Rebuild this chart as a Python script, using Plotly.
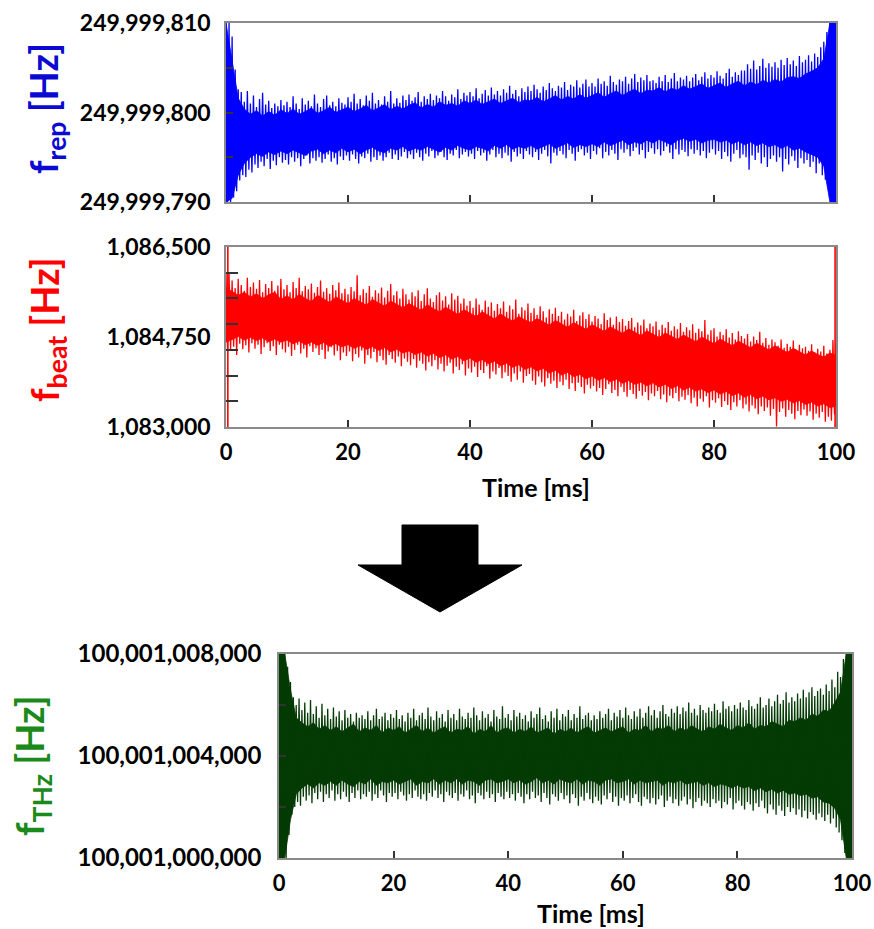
import plotly.graph_objects as go

W, H = 874, 929

# ---------------- data ----------------
# time grid of the inner (dense) band, 1 ms steps
T_IN = list(range(101))
# time grid of the excursion samples, 0.5 ms steps
T_SPK = [i * 0.5 for i in range(201)]

# f_rep : values are offsets from 249,999,000 Hz
FREP_BASE = 249_999_000
FREP_IN_UP = [
    810, 806.0, 801.6, 800.4, 799.8, 800.2, 799.6, 800.1, 799.7, 800.3,
    799.9, 800.4, 799.8, 800.1, 800.5, 799.9, 800.2, 800.6, 800.0, 800.3,
    800.6, 800.1, 800.4, 800.8, 800.2, 800.5, 800.9, 800.3, 800.7, 800.4,
    800.8, 801.1, 800.5, 800.9, 800.6, 801.2, 800.8, 801.0, 800.7, 801.3,
    801.0, 801.4, 800.9, 801.2, 801.5, 801.0, 801.3, 801.6, 801.1, 801.4,
    801.3, 801.7, 801.2, 801.5, 801.9, 801.4, 801.8, 801.5, 802.0, 801.6,
    801.9, 802.2, 801.7, 802.1, 802.4, 801.9, 802.3, 802.6, 802.1, 802.5,
    802.4, 802.8, 802.3, 802.7, 802.5, 803.0, 802.6, 802.9, 803.2, 802.7,
    803.0, 803.3, 802.8, 803.2, 803.5, 803.0, 803.4, 803.1, 803.6, 803.3,
    803.7, 803.4, 803.9, 804.0, 803.8, 804.3, 804.6, 805.0, 806.0, 810,
    810,
]
FREP_IN_DN = [
    790, 790.4, 793.0, 794.3, 795.0, 795.4, 795.1, 795.6, 795.3, 795.7,
    795.4, 795.8, 795.5, 795.2, 795.7, 795.9, 795.4, 795.8, 795.5, 796.0,
    795.6, 795.9, 795.4, 795.8, 796.1, 795.7, 795.5, 796.0, 795.8, 796.2,
    795.7, 796.0, 795.8, 796.2, 795.9, 795.6, 796.1, 795.8, 796.3, 796.0,
    795.8, 796.2, 796.0, 795.7, 796.3, 796.0, 796.4, 795.9, 796.2, 796.0,
    796.3, 795.9, 796.2, 796.5, 796.0, 796.3, 796.6, 796.1, 796.4, 796.2,
    796.5, 796.2, 796.7, 796.3, 796.6, 796.9, 796.4, 796.7, 796.5, 796.9,
    796.6, 797.0, 796.7, 796.4, 796.9, 797.1, 796.8, 797.0, 796.6, 796.9,
    797.0, 796.7, 796.9, 796.5, 796.8, 796.4, 796.7, 796.3, 796.6, 796.2,
    796.4, 796.0, 796.3, 795.8, 796.0, 795.6, 795.3, 795.0, 794.0, 790,
    790,
]
FREP_UP = [
    810, 810, 808.5, 804.8, 802.6, 802.3, 801.2, 802.4, 801.0, 801.9,
    800.6, 801.5, 802.2, 800.9, 801.3, 800.5, 801.0, 800.7, 801.4, 800.8,
    801.2, 800.6, 801.8, 801.0, 800.4, 801.6, 800.9, 801.3, 800.7, 802.0,
    801.0, 800.6, 801.5, 801.9, 800.8, 801.2, 800.7, 801.6, 801.1, 800.9,
    801.7, 801.2, 802.1, 801.0, 801.5, 800.8, 801.9, 801.3, 802.2, 801.0,
    801.4, 800.9, 801.8, 801.2, 802.4, 801.0, 801.6, 801.1, 801.9, 801.4,
    802.0, 801.3, 801.7, 802.3, 801.2, 801.8, 801.5, 802.1, 801.4, 801.9,
    801.6, 802.4, 801.8, 801.3, 802.0, 801.7, 802.6, 801.5, 802.2, 801.9,
    802.3, 801.8, 802.7, 801.6, 802.1, 802.5, 801.9, 802.8, 802.0, 802.4,
    801.9, 802.6, 802.2, 803.0, 802.1, 802.5, 801.8, 802.7, 802.3, 802.9,
    802.4, 803.1, 802.6, 802.2, 802.9, 802.5, 803.3, 802.7, 802.4, 803.0,
    802.8, 803.4, 802.5, 803.1, 802.9, 803.6, 802.8, 803.2, 803.7, 802.9,
    803.3, 802.9, 803.8, 803.2, 803.5, 803.0, 804.1, 803.4, 803.1, 803.7,
    803.5, 804.0, 803.2, 803.8, 804.3, 803.4, 803.9, 803.6, 804.2, 803.5,
    803.6, 803.3, 804.0, 803.5, 804.2, 803.4, 803.8, 804.4, 803.5, 803.9,
    803.7, 804.1, 803.5, 803.9, 804.3, 803.6, 804.0, 804.5, 803.8, 804.2,
    803.9, 804.6, 804.1, 803.8, 804.4, 804.9, 804.0, 804.5, 804.2, 804.7,
    804.7, 805.4, 804.9, 805.8, 804.8, 805.2, 806.0, 805.0, 805.5, 805.1,
    805.6, 805.0, 805.9, 805.3, 806.1, 805.4, 805.8, 805.2, 806.3, 805.6,
    805.9, 806.4, 805.7, 806.6, 806.2, 807.3, 807.9, 809.0, 810, 810,
    810,
]
FREP_DN = [
    790, 790, 790.5, 791.2, 792.4, 793.0, 792.8, 793.6, 793.3, 794.2,
    793.8, 794.5, 794.0, 794.8, 793.7, 794.6, 794.1, 795.0, 794.4, 794.7,
    794.2, 795.0, 794.5, 794.9, 794.0, 794.8, 795.2, 794.3, 794.9, 794.6,
    795.0, 794.4, 794.8, 795.3, 794.5, 794.9, 794.2, 795.1, 794.7, 795.2,
    794.6, 795.3, 794.8, 794.3, 795.1, 794.9, 795.4, 794.5, 795.0, 794.7,
    795.2, 794.6, 795.0, 795.5, 794.8, 795.3, 794.7, 795.1, 795.6, 794.9,
    795.3, 794.8, 795.5, 795.0, 794.6, 795.4, 795.1, 795.7, 794.9, 795.2,
    795.6, 795.0, 794.7, 795.4, 795.2, 795.8, 794.9, 795.3, 795.6, 795.1,
    795.4, 794.8, 795.7, 795.2, 795.5, 794.6, 795.3, 795.8, 795.0, 795.4,
    794.9, 795.5, 795.2, 794.5, 795.6, 795.1, 795.4, 794.8, 795.7, 795.3,
    795.0, 795.6, 794.7, 795.4, 795.8, 795.1, 794.3, 795.5, 795.2, 795.7,
    795.3, 794.9, 795.8, 795.4, 794.6, 795.6, 795.9, 795.2, 795.5, 794.8,
    795.7, 795.3, 796.0, 794.9, 795.6, 795.2, 795.8, 795.4, 794.7, 795.9,
    795.5, 795.9, 795.1, 795.7, 796.1, 795.3, 795.8, 794.9, 795.6, 796.0,
    795.4, 795.9, 795.2, 795.7, 796.2, 795.5, 794.8, 795.9, 795.3, 795.8,
    795.6, 795.1, 795.9, 795.4, 795.8, 795.2, 795.7, 794.9, 795.5, 795.9,
    795.3, 795.7, 794.8, 795.6, 795.1, 794.5, 795.4, 795.8, 794.9, 795.3,
    795.0, 793.6, 795.2, 794.7, 795.5, 794.3, 795.0, 793.9, 794.8, 795.2,
    794.5, 795.0, 793.4, 794.8, 794.2, 795.1, 794.6, 793.8, 794.9, 794.3,
    794.7, 793.9, 794.5, 793.2, 794.3, 793.0, 792.5, 791.8, 790.5, 790,
    790,
]

# f_beat : values are offsets from 1,080,000 Hz
FBEAT_BASE = 1_080_000
FBEAT_EDGE_T = [0.3, 99.85]          # full-range glitches at start / end
FBEAT_EDGE_LO = [3000, 3000]
FBEAT_EDGE_HI = [6500, 6500]
FBEAT_IN_UP = [
    5700, 5640, 5560, 5620, 5530, 5590, 5500, 5570, 5620, 5480,
    5550, 5470, 5580, 5500, 5440, 5560, 5490, 5420, 5530, 5460,
    5400, 5500, 5430, 5370, 5480, 5410, 5350, 5450, 5380, 5320,
    5400, 5330, 5270, 5380, 5300, 5240, 5330, 5260, 5190, 5280,
    5210, 5150, 5240, 5170, 5100, 5200, 5120, 5060, 5150, 5080,
    5030, 5110, 5040, 4980, 5070, 5000, 4940, 5030, 4960, 4900,
    4990, 4920, 4860, 4950, 4880, 4820, 4910, 4840, 4780, 4870,
    4800, 4740, 4830, 4760, 4700, 4790, 4720, 4660, 4750, 4680,
    4620, 4710, 4640, 4580, 4670, 4600, 4540, 4630, 4560, 4500,
    4580, 4510, 4450, 4530, 4460, 4400, 4480, 4410, 4360, 4440,
    4400,
]
FBEAT_IN_DN = [
    4650, 4700, 4760, 4690, 4740, 4680, 4730, 4660, 4710, 4650,
    4690, 4620, 4670, 4600, 4650, 4590, 4640, 4570, 4620, 4560,
    4600, 4530, 4580, 4510, 4560, 4490, 4540, 4460, 4510, 4440,
    4480, 4410, 4460, 4380, 4430, 4350, 4400, 4320, 4370, 4290,
    4340, 4260, 4310, 4230, 4280, 4190, 4240, 4160, 4210, 4120,
    4170, 4090, 4140, 4050, 4100, 4010, 4060, 3980, 4020, 3940,
    3990, 3910, 3960, 3880, 3930, 3850, 3900, 3830, 3870, 3800,
    3860, 3780, 3830, 3750, 3800, 3720, 3770, 3700, 3740, 3670,
    3720, 3640, 3690, 3610, 3660, 3580, 3630, 3550, 3600, 3530,
    3570, 3500, 3540, 3470, 3510, 3440, 3480, 3410, 3450, 3380,
    3400,
]
FBEAT_UP = [
    6000, 5990, 5850, 5700, 5880, 5760, 5650, 5900, 5720, 5810,
    5690, 5860, 5620, 5780, 5700, 5840, 5650, 5750, 5880, 5680,
    5760, 5620, 5820, 5700, 5900, 5640, 5740, 5680, 5790, 5610,
    5720, 5850, 5630, 5700, 5590, 5760, 5660, 5810, 5600, 5690,
    5580, 5720, 5640, 5950, 5560, 5680, 5610, 5740, 5530, 5660,
    5600, 5710, 5520, 5650, 5780, 5560, 5640, 5500, 5690, 5580,
    5480, 5620, 5540, 5660, 5450, 5580, 5700, 5500, 5430, 5560,
    5620, 5460, 5540, 5380, 5600, 5480, 5550, 5400, 5500, 5360,
    5450, 5320, 5500, 5380, 5280, 5460, 5340, 5420, 5260, 5390,
    5310, 5440, 5240, 5360, 5290, 5480, 5200, 5330, 5270, 5400,
    5220, 5310, 5180, 5350, 5250, 5130, 5290, 5200, 5320, 5160,
    5240, 5090, 5200, 5150, 5280, 5060, 5170, 5230, 5100, 5190,
    5050, 5160, 5110, 5000, 5210, 5080, 5130, 4990, 5150, 5040,
    5100, 4970, 5060, 5120, 4940, 5030, 4980, 5090, 4920, 5010,
    4960, 5050, 4890, 4990, 4930, 5040, 4870, 4960, 4900, 5020,
    4850, 4940, 4880, 5000, 4830, 4910, 4860, 5080, 4800, 4880,
    4920, 4760, 4850, 4790, 4900, 4740, 4830, 4700, 4860, 4770,
    4720, 4810, 4660, 4760, 4690, 4850, 4640, 4730, 4600, 4700,
    4650, 4580, 4700, 4540, 4620, 4560, 4680, 4500, 4600, 4530,
    4560, 4480, 4610, 4450, 4520, 4470, 4580, 4430, 4500, 4690,
    4600,
]
FBEAT_DN = [
    4500, 4480, 4560, 4400, 4620, 4510, 4590, 4450, 4630, 4520,
    4600, 4420, 4550, 4630, 4480, 4570, 4400, 4600, 4510, 4450,
    4560, 4380, 4500, 4600, 4430, 4520, 4350, 4570, 4460, 4530,
    4400, 4500, 4320, 4470, 4550, 4390, 4480, 4300, 4450, 4380,
    4470, 4280, 4420, 4350, 4490, 4230, 4400, 4330, 4460, 4260,
    4380, 4300, 4210, 4400, 4320, 4250, 4370, 4180, 4330, 4270,
    4200, 4320, 4150, 4290, 4230, 4100, 4260, 4180, 4300, 4120,
    4230, 4080, 4190, 4250, 4040, 4170, 4110, 4220, 4000, 4140,
    4060, 4170, 3970, 4110, 4050, 4180, 3940, 4080, 4020, 4150,
    3950, 4060, 3990, 3880, 4040, 3920, 4080, 3860, 3990, 4030,
    3900, 3820, 3980, 3870, 3790, 3950, 3840, 3900, 3760, 3880,
    3810, 3920, 3740, 3850, 3700, 3860, 3780, 3650, 3820, 3750,
    3800, 3690, 3760, 3620, 3740, 3830, 3660, 3720, 3600, 3780,
    3680, 3590, 3720, 3640, 3550, 3700, 3610, 3680, 3520, 3650,
    3600, 3700, 3540, 3630, 3480, 3610, 3560, 3660, 3500, 3590,
    3530, 3620, 3460, 3570, 3400, 3550, 3490, 3600, 3380, 3520,
    3470, 3560, 3390, 3500, 3430, 3330, 3480, 3400, 3520, 3360,
    3440, 3300, 3420, 3360, 3250, 3400, 3310, 3380, 3220, 3350,
    3010, 3290, 3360, 3200, 3330, 3260, 3150, 3310, 3230, 3340,
    3220, 3300, 3140, 3260, 3180, 3290, 3100, 3200, 3120, 3250,
    3300,
]

# f_THz : values are offsets from 100,001,000,000 Hz
FTHZ_BASE = 100_001_000_000
FTHZ_IN_UP = [
    8000, 8000, 6600, 5500, 5300, 5150, 5300, 5050, 5200, 5000,
    5150, 4950, 5100, 5250, 4950, 5100, 5000, 5200, 4900, 5100,
    5000, 5150, 4900, 5050, 5200, 4950, 5100, 4900, 5050, 5150,
    4900, 5050, 5000, 5150, 4850, 5050, 4950, 5200, 4900, 5050,
    5100, 4900, 5050, 4950, 5150, 4900, 5000, 5100, 4850, 5050,
    4950, 5100, 4900, 5050, 5150, 4900, 5000, 5100, 4950, 5050,
    5150, 4900, 5050, 5000, 5200, 4950, 5100, 5050, 5200, 4950,
    5100, 5000, 5200, 5050, 4950, 5150, 5050, 5250, 5100, 5000,
    5200, 5100, 5300, 5050, 5200, 5150, 5350, 5250, 5150, 5400,
    5350, 5500, 5400, 5650, 5550, 5800, 5750, 6100, 6500, 8000,
    8000,
]
FTHZ_IN_DN = [
    0, 0, 1500, 2500, 2750, 2900, 2750, 2950, 2850, 3000,
    2850, 3050, 2900, 2800, 3000, 2900, 3100, 2850, 3000, 2950,
    3050, 2900, 3000, 3100, 2850, 3000, 2950, 3100, 2900, 3050,
    2950, 3100, 2900, 3050, 3000, 2850, 3050, 3100, 2950, 3000,
    3100, 2950, 3050, 2900, 3000, 3150, 2950, 3050, 2900, 3100,
    3000, 2950, 3100, 2900, 3050, 3000, 2850, 3050, 3100, 2950,
    3000, 3100, 2900, 3050, 2950, 3000, 3050, 2850, 3000, 2950,
    3050, 2900, 2950, 3000, 2850, 2950, 2800, 2900, 2850, 2750,
    2850, 2750, 2800, 2650, 2750, 2600, 2700, 2550, 2650, 2500,
    2550, 2450, 2500, 2350, 2400, 2200, 2150, 1950, 1500, 0,
    0,
]
FTHZ_UP = [
    8000, 8000, 8000, 7500, 6900, 6300, 6000, 6250, 5800, 6100,
    5700, 6200, 5650, 5950, 5500, 6050, 5600, 5850, 5450, 5900,
    5550, 5750, 5400, 5800, 5500, 5650, 5350, 5700, 5500, 5600,
    5450, 5750, 5400, 5600, 5850, 5450, 5550, 5700, 5400, 5650,
    5500, 5800, 5450, 5600, 5350, 5700, 5500, 5850, 5400, 5600,
    5700, 5450, 5900, 5550, 5400, 5750, 5500, 5650, 5350, 5800,
    5500, 5650, 5400, 5850, 5550, 5450, 5700, 5500, 5900, 5600,
    5400, 5750, 5500, 5650, 5350, 5800, 5550, 5450, 5950, 5500,
    5650, 5400, 5800, 5550, 5700, 5450, 5600, 5350, 5750, 5500,
    5650, 5900, 5450, 5600, 5350, 5750, 5500, 5850, 5400, 5650,
    5550, 5800, 5400, 5650, 5500, 5950, 5450, 5600, 5700, 5400,
    5600, 5450, 5750, 5500, 5650, 5850, 5400, 5700, 5550, 5800,
    5500, 5900, 5600, 5450, 5750, 5550, 5850, 5500, 5700, 5950,
    5600, 5800, 5500, 5750, 6000, 5650, 5550, 5850, 5700, 5950,
    5650, 5900, 5750, 6100, 5700, 5850, 5600, 6000, 5800, 5700,
    5900, 5750, 6050, 5800, 5700, 6150, 5850, 5950, 5750, 6000,
    5850, 6100, 5900, 5800, 6200, 5950, 5850, 6050, 6300, 5900,
    6000, 6250, 5950, 6150, 6400, 6050, 6200, 6500, 6100, 6300,
    6150, 6450, 6250, 6600, 6300, 6500, 6700, 6350, 6550, 6650,
    6400, 6800, 6550, 7000, 6700, 7300, 7100, 7800, 8000, 8000,
    8000,
]
FTHZ_DN = [
    0, 0, 0, 900, 1700, 2000, 2200, 2050, 2400, 2250,
    2450, 2150, 2550, 2300, 2600, 2200, 2500, 2350, 2650, 2250,
    2500, 2300, 2600, 2400, 2200, 2550, 2350, 2650, 2300, 2500,
    2400, 2600, 2250, 2500, 2350, 2650, 2450, 2200, 2550, 2400,
    2550, 2300, 2600, 2450, 2250, 2500, 2350, 2650, 2400, 2300,
    2500, 2250, 2550, 2400, 2650, 2350, 2500, 2200, 2600, 2450,
    2350, 2550, 2250, 2500, 2400, 2650, 2300, 2450, 2150, 2550,
    2450, 2300, 2600, 2350, 2500, 2200, 2550, 2400, 2300, 2600,
    2350, 2500, 2250, 2550, 2400, 2150, 2500, 2300, 2600, 2350,
    2450, 2200, 2550, 2350, 2100, 2500, 2400, 2250, 2550, 2300,
    2450, 2150, 2500, 2350, 2050, 2400, 2250, 2550, 2300, 2150,
    2400, 2250, 2100, 2450, 2300, 2550, 2200, 2400, 2050, 2350,
    2250, 2450, 2150, 2350, 2500, 2200, 2050, 2400, 2300, 2150,
    2350, 2100, 2300, 2450, 2000, 2250, 2400, 2150, 2300, 2050,
    2250, 2400, 2100, 2300, 1950, 2200, 2350, 2050, 2250, 2150,
    2000, 2300, 2150, 2250, 1950, 2200, 2100, 2350, 1900, 2150,
    2250, 2050, 1900, 2200, 2100, 1850, 2150, 2000, 2250, 1950,
    1750, 2100, 1900, 1700, 2050, 1850, 1650, 2000, 1800, 1950,
    1700, 1900, 1600, 1850, 1550, 1800, 1700, 1500, 1750, 1600,
    1450, 1700, 1350, 1550, 1200, 1000, 700, 200, 0, 0,
    0,
]

# axis ticks / labels
X_TICKS = [0, 20, 40, 60, 80, 100]
X_TICKTEXT = ["0", "20", "40", "60", "80", "100"]
FREP_TICKS = [249_999_790, 249_999_800, 249_999_810]
FREP_TICKTEXT = ["249,999,790", "249,999,800", "249,999,810"]
FBEAT_TICKS = [1_083_000, 1_084_750, 1_086_500]
FBEAT_TICKTEXT = ["1,083,000", "1,084,750", "1,086,500"]
FTHZ_TICKS = [100_001_000_000, 100_001_004_000, 100_001_008_000]
FTHZ_TICKTEXT = ["100,001,000,000", "100,001,004,000", "100,001,008,000"]

BLUE = "#0000ff"
RED = "#ff0000"
DKGREEN = "#043a04"
TITLE_BLUE = "#0a0ad2"
TITLE_RED = "#ff0000"
TITLE_GREEN = "#1a8a1a"
FRAME = "#8a8a8a"
TICKC = "#333333"
FONT = "Lato"


def px(x):
    return x / W


def py(y):
    return 1 - y / H


fig = go.Figure()


def add_signal(xa, ya, base, in_up, in_dn, up, dn, color):
    # dense inner band
    xs = T_IN + T_IN[::-1]
    ys = [base + v for v in in_up] + [base + v for v in in_dn][::-1]
    fig.add_trace(go.Scatter(x=xs, y=ys, fill="toself", fillcolor=color, mode="lines",
                             line=dict(width=0.8, color=color), xaxis=xa, yaxis=ya,
                             hoverinfo="skip", showlegend=False))
    # noisy trace: alternate between upper and lower excursions
    sx, sy = [], []
    for t, a, b in zip(T_SPK, dn, up):
        sx += [t, t + 0.25]
        sy += [base + b, base + a]
    fig.add_trace(go.Scatter(x=sx, y=sy, mode="lines", line=dict(width=1.3, color=color),
                             xaxis=xa, yaxis=ya, hoverinfo="skip", showlegend=False))


add_signal("x", "y", FREP_BASE, FREP_IN_UP, FREP_IN_DN, FREP_UP, FREP_DN, BLUE)
add_signal("x2", "y2", FBEAT_BASE, FBEAT_IN_UP, FBEAT_IN_DN, FBEAT_UP, FBEAT_DN, RED)
add_signal("x3", "y3", FTHZ_BASE, FTHZ_IN_UP, FTHZ_IN_DN, FTHZ_UP, FTHZ_DN, DKGREEN)

# full-range glitches of f_beat at start and end
gx, gy = [], []
for t, a, b in zip(FBEAT_EDGE_T, FBEAT_EDGE_LO, FBEAT_EDGE_HI):
    gx += [t, t, None]
    gy += [FBEAT_BASE + a, FBEAT_BASE + b, None]
fig.add_trace(go.Scatter(x=gx, y=gy, mode="lines", line=dict(width=1.6, color=RED),
                         xaxis="x2", yaxis="y2", hoverinfo="skip", showlegend=False))

tickfont = dict(family=FONT, size=22, color="black", weight="bold")


def xaxis_cfg(dom, anchor, labels):
    return dict(domain=dom, anchor=anchor, range=[0, 100], tickmode="array", tickvals=X_TICKS,
                ticktext=X_TICKTEXT, showticklabels=labels, ticks="inside", ticklen=7, tickwidth=1.5,
                tickcolor=TICKC, showline=True, linecolor=FRAME, linewidth=1.5, mirror=True,
                showgrid=False, zeroline=False, tickfont=tickfont, ticklabelstandoff=5,
                automargin=False)


def yaxis_cfg(dom, anchor, rng, tv, tt, mdt, mt0, tlen, standoff, fsize=23):
    return dict(domain=dom, anchor=anchor, range=rng, tickmode="array", tickvals=tv, ticktext=tt,
                ticks="inside", ticklen=tlen, tickwidth=1.5, tickcolor=TICKC,
                minor=dict(ticks="inside", ticklen=tlen, tickwidth=1.5, tickcolor=TICKC,
                           tickmode="linear", tick0=mt0, dtick=mdt),
                showline=True, linecolor=FRAME, linewidth=1.5, mirror=True, showgrid=False,
                zeroline=False, tickfont=dict(family=FONT, size=fsize, color="black", weight="bold"),
                ticklabelstandoff=standoff, automargin=False)


fig.update_layout(
    template="none",
    width=W, height=H, margin=dict(l=0, r=0, t=0, b=0, pad=0), autosize=False,
    paper_bgcolor="white", plot_bgcolor="white", showlegend=False,
    xaxis=xaxis_cfg([px(226), px(836)], "y", False),
    yaxis=yaxis_cfg([py(202), py(23)], "x", [FREP_TICKS[0], FREP_TICKS[-1]], FREP_TICKS, FREP_TICKTEXT,
                    5, FREP_TICKS[0], 7, 9),
    xaxis2=xaxis_cfg([px(226), px(836)], "y2", True),
    yaxis2=yaxis_cfg([py(427), py(247)], "x2", [FBEAT_TICKS[0], FBEAT_TICKS[-1]], FBEAT_TICKS,
                     FBEAT_TICKTEXT, 500, FBEAT_TICKS[0], 12, 9),
    xaxis3=xaxis_cfg([px(279), px(852)], "y3", True),
    yaxis3=yaxis_cfg([py(858), py(654)], "x3", [FTHZ_TICKS[0], FTHZ_TICKS[-1]], FTHZ_TICKS,
                     FTHZ_TICKTEXT, 2000, FTHZ_TICKS[0], 7, 11, 24),
)
fig.update_layout(yaxis2=dict(ticklen=0))

ann = []


def ytitle(text, x, y, color):
    ann.append(dict(text=text, x=px(x), y=py(y), xref="paper", yref="paper", textangle=-90,
                    showarrow=False, xanchor="center", yanchor="middle",
                    font=dict(family=FONT, size=38, color=color, weight="bold")))


ytitle("f<sub>rep</sub> [Hz]", 46, 109, TITLE_BLUE)
ytitle("f<sub>beat</sub> [Hz]", 47, 330, TITLE_RED)
ytitle("f<sub>THz</sub> [Hz]", 32, 766, TITLE_GREEN)

for x, y in [(536, 487), (591, 913)]:
    ann.append(dict(text="Time [ms]", x=px(x), y=py(y), xref="paper", yref="paper", showarrow=False,
                    xanchor="center", yanchor="middle",
                    font=dict(family=FONT, size=25, color="black", weight="bold")))

fig.update_layout(annotations=ann)

# big downward arrow between the panels
arrow_pts = [(402, 525), (478, 525), (478, 565), (522, 565), (440, 612), (358, 565), (402, 565)]
path = "M " + " L ".join(f"{px(a):.5f},{py(b):.5f}" for a, b in arrow_pts) + " Z"
fig.add_shape(type="path", path=path, xref="paper", yref="paper", fillcolor="black",
              line=dict(color="black", width=1))

fig.write_html("out.html")
